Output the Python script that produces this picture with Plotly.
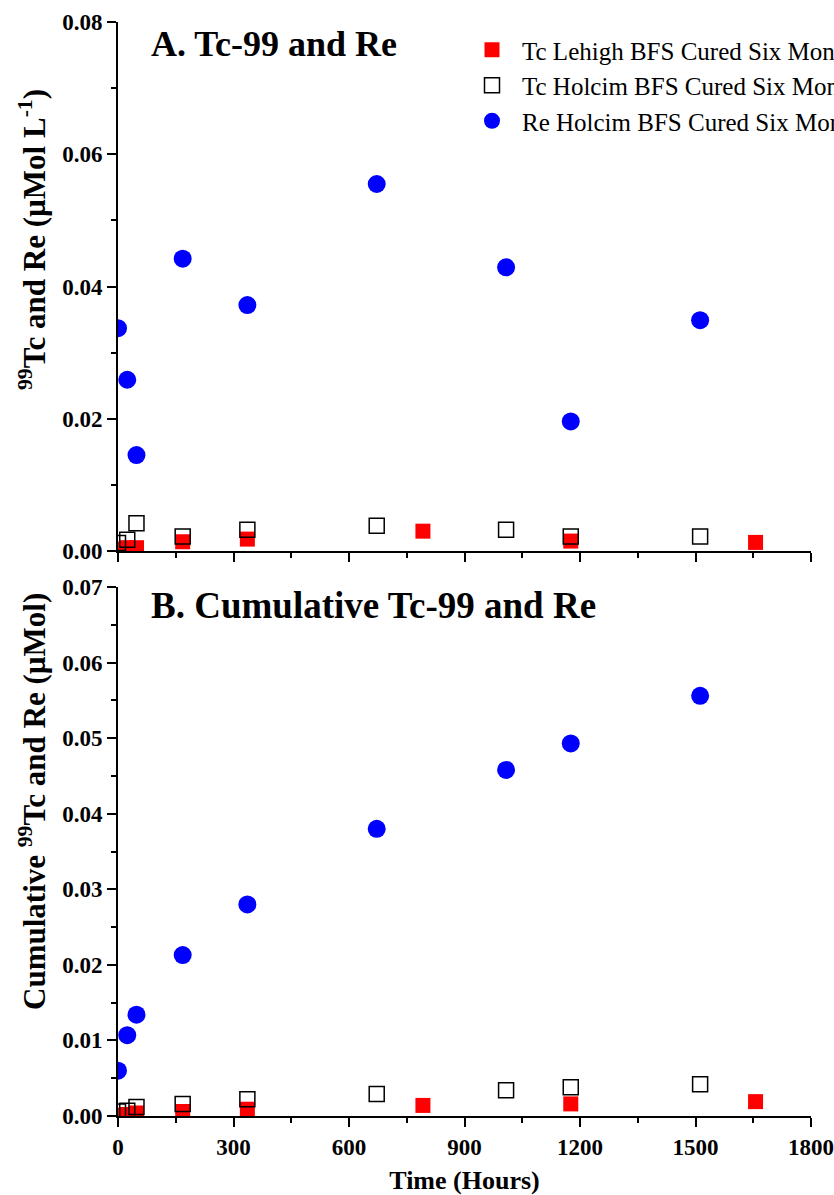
import plotly.graph_objects as go

# ---------------- data ----------------
t_re = [0, 24, 48, 168, 336, 672, 1008, 1176, 1512]
re_conc = [0.0337, 0.0259, 0.0145, 0.0442, 0.0372, 0.0555, 0.0429, 0.0196, 0.0349]
re_cum = [0.0060, 0.0107, 0.0134, 0.0213, 0.0280, 0.0380, 0.0458, 0.0493, 0.0556]

t_holcim = [0, 24, 48, 168, 336, 672, 1008, 1176, 1512]
tc_holcim_conc = [0.0012, 0.0017, 0.0042, 0.0022, 0.0032, 0.0038, 0.0032, 0.0022, 0.0022]
tc_holcim_cum = [0.0006, 0.0007, 0.0012, 0.0016, 0.0022, 0.0029, 0.0034, 0.0038, 0.0042]

t_lehigh = [0, 24, 48, 168, 336, 792, 1176, 1656]
tc_lehigh_conc = [0.0003, 0.0005, 0.0005, 0.0014, 0.0018, 0.0030, 0.0015, 0.0013]
tc_lehigh_cum = [0.0001, 0.0002, 0.0004, 0.0006, 0.0009, 0.0014, 0.0016, 0.0019]

names = ["Tc Lehigh BFS Cured Six Months",
         "Tc Holcim BFS Cured Six Months",
         "Re Holcim BFS Cured Six Months"]

x_ticks = [0, 300, 600, 900, 1200, 1500, 1800]

FONT = "Liberation Serif"

red_marker = dict(symbol="square", size=15, color="#ff0000", line=dict(width=0))
open_marker = dict(symbol="square-open", size=15, color="black", line=dict(width=1.5))
blue_marker = dict(symbol="circle", size=18, color="#0000ff", line=dict(width=0))

fig = go.Figure()

# Panel A
fig.add_trace(go.Scatter(x=t_lehigh, y=tc_lehigh_conc, mode="markers", marker=red_marker,
                         name=names[0], xaxis="x", yaxis="y"))
fig.add_trace(go.Scatter(x=t_holcim, y=tc_holcim_conc, mode="markers", marker=open_marker,
                         name=names[1], xaxis="x", yaxis="y"))
fig.add_trace(go.Scatter(x=t_re, y=re_conc, mode="markers", marker=blue_marker,
                         name=names[2], xaxis="x", yaxis="y"))
# Panel B
fig.add_trace(go.Scatter(x=t_lehigh, y=tc_lehigh_cum, mode="markers", marker=red_marker,
                         name=names[0], xaxis="x2", yaxis="y2", showlegend=False))
fig.add_trace(go.Scatter(x=t_holcim, y=tc_holcim_cum, mode="markers", marker=open_marker,
                         name=names[1], xaxis="x2", yaxis="y2", showlegend=False))
fig.add_trace(go.Scatter(x=t_re, y=re_cum, mode="markers", marker=blue_marker,
                         name=names[2], xaxis="x2", yaxis="y2", showlegend=False))

axis_common = dict(showline=True, linecolor="black", linewidth=2, ticks="outside",
                   tickcolor="black", tickwidth=2, ticklen=9, showgrid=False, zeroline=False,
                   tickfont=dict(family=FONT, size=23, color="black", weight="bold"),
                   mirror=False)
minor_common = dict(ticks="outside", ticklen=5, tickwidth=2, tickcolor="black")

W, H = 834, 1195
L, R, T, B = 118, 23, 22, 79
plot_w = W - L - R
plot_h = H - T - B


def px_x(px):
    return (px - L) / plot_w


def px_y(py):
    return (H - B - py) / plot_h


fig.update_layout(
    width=W, height=H,
    margin=dict(l=L, r=R, t=T, b=B, autoexpand=False),
    paper_bgcolor="white", plot_bgcolor="white",
    showlegend=True,
    legend=dict(x=px_x(462), y=px_y(27), xanchor="left", yanchor="top",
                font=dict(family=FONT, size=25, color="black"),
                bgcolor="rgba(0,0,0,0)", borderwidth=0,
                itemwidth=50),
    xaxis=dict(domain=[0, 1], anchor="y", range=[0, 1800], tickvals=x_ticks,
               showticklabels=False,
               minor=dict(dtick=150, tick0=0, **minor_common),
               **axis_common),
    yaxis=dict(domain=[px_y(551), 1], anchor="x", range=[0, 0.08], dtick=0.02, tick0=0,
               tickformat=".2f",
               minor=dict(dtick=0.01, tick0=0, **minor_common),
               **axis_common),
    xaxis2=dict(domain=[0, 1], anchor="y2", range=[0, 1800], tickvals=x_ticks,
                minor=dict(dtick=150, tick0=0, **minor_common),
                title=dict(text="Time (Hours)", standoff=26,
                           font=dict(family=FONT, size=26, color="black", weight="bold")),
                **axis_common),
    yaxis2=dict(domain=[0, px_y(587)], anchor="x2", range=[0, 0.07], dtick=0.01, tick0=0,
                tickformat=".2f",
                minor=dict(dtick=0.005, tick0=0, **minor_common),
                **axis_common),
)

fig.add_annotation(text="A. Tc-99 and Re", xref="paper", yref="paper",
                   x=px_x(149), y=px_y(22), xanchor="left", yanchor="top",
                   showarrow=False,
                   font=dict(family=FONT, size=36, color="black", weight="bold"))
fig.add_annotation(text="B. Cumulative Tc-99 and Re", xref="paper", yref="paper",
                   x=px_x(149), y=px_y(583), xanchor="left", yanchor="top",
                   showarrow=False,
                   font=dict(family=FONT, size=37, color="black", weight="bold"))

fig.add_annotation(text="<sup>99</sup>Tc and Re (\u00b5Mol L<sup>-1</sup>)", xref="paper", yref="paper",
                   x=px_x(32), y=px_y(240), xanchor="center", yanchor="middle",
                   textangle=-90, showarrow=False,
                   font=dict(family=FONT, size=31, color="black", weight="bold"))
fig.add_annotation(text="Cumulative <sup>99</sup>Tc and Re (\u00b5Mol)", xref="paper", yref="paper",
                   x=px_x(32), y=px_y(802), xanchor="center", yanchor="middle",
                   textangle=-90, showarrow=False,
                   font=dict(family=FONT, size=31, color="black", weight="bold"))

fig.write_html("out.html")
